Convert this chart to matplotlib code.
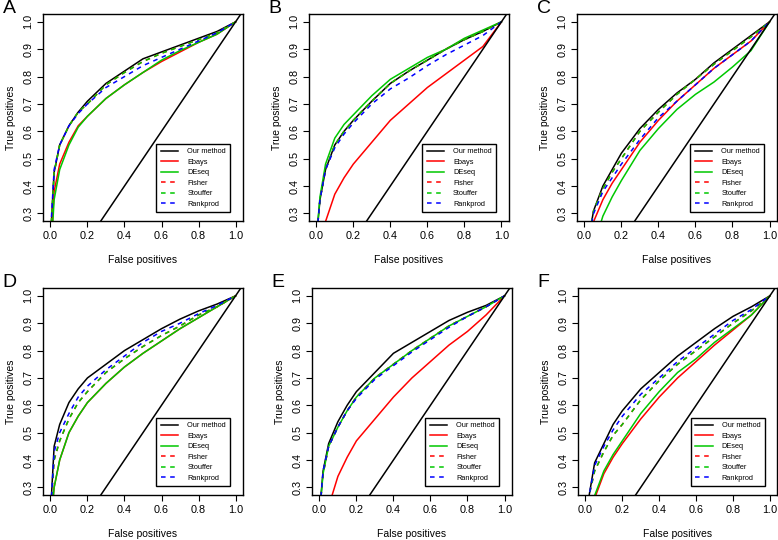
import matplotlib
matplotlib.use("Agg")
import matplotlib.pyplot as plt

plt.rcParams['font.family'] = ['Liberation Sans', 'DejaVu Sans']

# shared false-positive grid for all curves
fpr = [0, 0.02, 0.05, 0.1, 0.15, 0.2, 0.3, 0.4, 0.5, 0.6, 0.7, 0.8, 0.9, 1.0]

methods = ['Our method', 'Ebays', 'DEseq', 'Fisher', 'Stouffer', 'Rankprod']
colors = ['black', '#ff0000', '#00c800', '#ff0000', '#00c800', '#0000ff']
styles = ['-', '-', '-', '--', '--', '--']
panel_names = ['A', 'B', 'C', 'D', 'E', 'F']

# true positive rates, one list per method, per panel
tpr_A = [
    [0.20, 0.45, 0.55, 0.62, 0.67, 0.71, 0.775, 0.82, 0.865, 0.89, 0.915, 0.94, 0.965, 1.0],
    [0.15, 0.38, 0.48, 0.56, 0.62, 0.655, 0.72, 0.77, 0.815, 0.855, 0.89, 0.925, 0.955, 1.0],
    [0.12, 0.35, 0.46, 0.55, 0.615, 0.655, 0.72, 0.77, 0.815, 0.86, 0.895, 0.925, 0.955, 1.0],
    [0.20, 0.45, 0.55, 0.62, 0.67, 0.70, 0.77, 0.815, 0.855, 0.885, 0.91, 0.935, 0.96, 1.0],
    [0.20, 0.45, 0.55, 0.62, 0.67, 0.70, 0.77, 0.815, 0.855, 0.885, 0.91, 0.935, 0.96, 1.0],
    [0.22, 0.46, 0.55, 0.62, 0.665, 0.70, 0.76, 0.80, 0.84, 0.87, 0.90, 0.93, 0.96, 1.0],
]
tpr_B = [
    [0.20, 0.35, 0.46, 0.55, 0.60, 0.64, 0.71, 0.775, 0.82, 0.86, 0.90, 0.935, 0.965, 1.0],
    [0.05, 0.15, 0.27, 0.37, 0.43, 0.48, 0.56, 0.64, 0.70, 0.76, 0.81, 0.86, 0.91, 1.0],
    [0.20, 0.36, 0.48, 0.575, 0.625, 0.66, 0.73, 0.79, 0.83, 0.87, 0.90, 0.94, 0.97, 1.0],
    [0.20, 0.35, 0.46, 0.55, 0.60, 0.64, 0.71, 0.775, 0.82, 0.86, 0.90, 0.935, 0.965, 1.0],
    [0.20, 0.35, 0.46, 0.55, 0.60, 0.64, 0.71, 0.775, 0.82, 0.86, 0.90, 0.935, 0.965, 1.0],
    [0.20, 0.35, 0.46, 0.54, 0.59, 0.63, 0.70, 0.755, 0.795, 0.84, 0.88, 0.915, 0.95, 1.0],
]
tpr_C = [
    [0.10, 0.20, 0.31, 0.40, 0.46, 0.52, 0.61, 0.68, 0.74, 0.79, 0.85, 0.90, 0.95, 1.0],
    [0.08, 0.16, 0.27, 0.35, 0.41, 0.46, 0.56, 0.64, 0.71, 0.77, 0.83, 0.88, 0.93, 1.0],
    [0.05, 0.10, 0.18, 0.29, 0.36, 0.42, 0.53, 0.61, 0.68, 0.735, 0.78, 0.835, 0.895, 1.0],
    [0.10, 0.20, 0.31, 0.39, 0.45, 0.50, 0.60, 0.67, 0.735, 0.79, 0.845, 0.895, 0.945, 1.0],
    [0.10, 0.20, 0.31, 0.39, 0.45, 0.50, 0.60, 0.67, 0.735, 0.79, 0.845, 0.895, 0.945, 1.0],
    [0.10, 0.20, 0.30, 0.38, 0.43, 0.48, 0.57, 0.65, 0.71, 0.77, 0.83, 0.88, 0.93, 1.0],
]
tpr_D = [
    [0.20, 0.45, 0.53, 0.61, 0.66, 0.70, 0.75, 0.80, 0.84, 0.88, 0.915, 0.945, 0.97, 1.0],
    [0.15, 0.30, 0.40, 0.50, 0.56, 0.61, 0.68, 0.74, 0.79, 0.835, 0.88, 0.92, 0.96, 1.0],
    [0.15, 0.30, 0.40, 0.50, 0.56, 0.61, 0.68, 0.74, 0.79, 0.835, 0.88, 0.92, 0.96, 1.0],
    [0.20, 0.40, 0.47, 0.55, 0.61, 0.65, 0.72, 0.77, 0.815, 0.855, 0.89, 0.93, 0.96, 1.0],
    [0.20, 0.40, 0.47, 0.55, 0.61, 0.65, 0.72, 0.77, 0.815, 0.855, 0.89, 0.93, 0.96, 1.0],
    [0.20, 0.43, 0.50, 0.57, 0.63, 0.67, 0.73, 0.78, 0.83, 0.87, 0.90, 0.935, 0.965, 1.0],
]
tpr_E = [
    [0.20, 0.36, 0.46, 0.54, 0.60, 0.65, 0.72, 0.79, 0.83, 0.87, 0.91, 0.94, 0.965, 1.0],
    [0.05, 0.13, 0.23, 0.34, 0.41, 0.47, 0.55, 0.63, 0.70, 0.76, 0.82, 0.87, 0.93, 1.0],
    [0.20, 0.35, 0.45, 0.52, 0.58, 0.63, 0.70, 0.75, 0.80, 0.845, 0.89, 0.925, 0.96, 1.0],
    [0.20, 0.35, 0.45, 0.52, 0.58, 0.63, 0.70, 0.75, 0.80, 0.845, 0.89, 0.925, 0.96, 1.0],
    [0.20, 0.35, 0.45, 0.52, 0.58, 0.63, 0.70, 0.75, 0.80, 0.845, 0.89, 0.925, 0.96, 1.0],
    [0.20, 0.36, 0.45, 0.52, 0.58, 0.625, 0.695, 0.745, 0.795, 0.84, 0.885, 0.925, 0.96, 1.0],
]
tpr_F = [
    [0.15, 0.27, 0.39, 0.46, 0.53, 0.58, 0.66, 0.72, 0.78, 0.83, 0.88, 0.925, 0.96, 1.0],
    [0.05, 0.15, 0.26, 0.35, 0.41, 0.46, 0.55, 0.63, 0.70, 0.76, 0.82, 0.875, 0.93, 1.0],
    [0.05, 0.15, 0.27, 0.36, 0.42, 0.47, 0.57, 0.65, 0.72, 0.77, 0.83, 0.88, 0.93, 1.0],
    [0.15, 0.27, 0.36, 0.43, 0.49, 0.53, 0.62, 0.69, 0.75, 0.80, 0.85, 0.90, 0.945, 1.0],
    [0.15, 0.27, 0.36, 0.43, 0.49, 0.53, 0.62, 0.69, 0.75, 0.80, 0.85, 0.90, 0.945, 1.0],
    [0.15, 0.27, 0.38, 0.45, 0.51, 0.56, 0.64, 0.70, 0.76, 0.81, 0.86, 0.91, 0.95, 1.0],
]
all_tpr = [tpr_A, tpr_B, tpr_C, tpr_D, tpr_E, tpr_F]

# axes boxes in figure fractions (left, bottom, width, height)
boxes = [
    [0.0553, 0.5907, 0.257, 0.383],
    [0.397, 0.5907, 0.257, 0.383],
    [0.7416, 0.5907, 0.257, 0.383],
    [0.0553, 0.0833, 0.257, 0.383],
    [0.401, 0.0833, 0.257, 0.383],
    [0.743, 0.0833, 0.256, 0.383],
]

fig = plt.figure(figsize=(7.78, 5.40), dpi=100)

for k in range(6):
    ax = fig.add_axes(boxes[k])
    for m in range(6):
        ls = styles[m]
        line, = ax.plot(fpr, all_tpr[k][m], color=colors[m], lw=1.1,
                        linestyle=ls, label=methods[m])
        if ls == '--':
            line.set_dashes((3, 3))
    ax.axline((0, 0), slope=1, color='black', lw=1.1)
    ax.set_xlim(-0.04, 1.04)
    ax.set_ylim(0.272, 1.028)
    ax.set_xticks([0.0, 0.2, 0.4, 0.6, 0.8, 1.0])
    ax.set_yticks([0.3, 0.4, 0.5, 0.6, 0.7, 0.8, 0.9, 1.0])
    ax.set_xticklabels(['0.0', '0.2', '0.4', '0.6', '0.8', '1.0'])
    ax.set_yticklabels(['0.3', '0.4', '0.5', '0.6', '0.7', '0.8', '0.9', '1.0'],
                       rotation=90, va='center')
    ax.tick_params(direction='out', length=4, width=0.8, labelsize=7.8, pad=3)
    for sp in ax.spines.values():
        sp.set_linewidth(1.0)
    ax.set_xlabel('False positives', fontsize=7.5, labelpad=10)
    ax.set_ylabel('True positives', fontsize=7.5, labelpad=5)
    leg = ax.legend(loc='lower right', fontsize=5.3, frameon=True, fancybox=False,
                    edgecolor='black', framealpha=1, handlelength=2.4,
                    labelspacing=0.45, borderpad=0.6, handletextpad=1.2,
                    bbox_to_anchor=(0.955, 0.025))
    leg.get_frame().set_linewidth(1.0)
    x0 = boxes[k][0]
    fig.text(x0 - 0.052, boxes[k][1] + boxes[k][3] + 0.027, panel_names[k],
             fontsize=14, ha='left', va='top')

fig.savefig('out.png', dpi=100)
